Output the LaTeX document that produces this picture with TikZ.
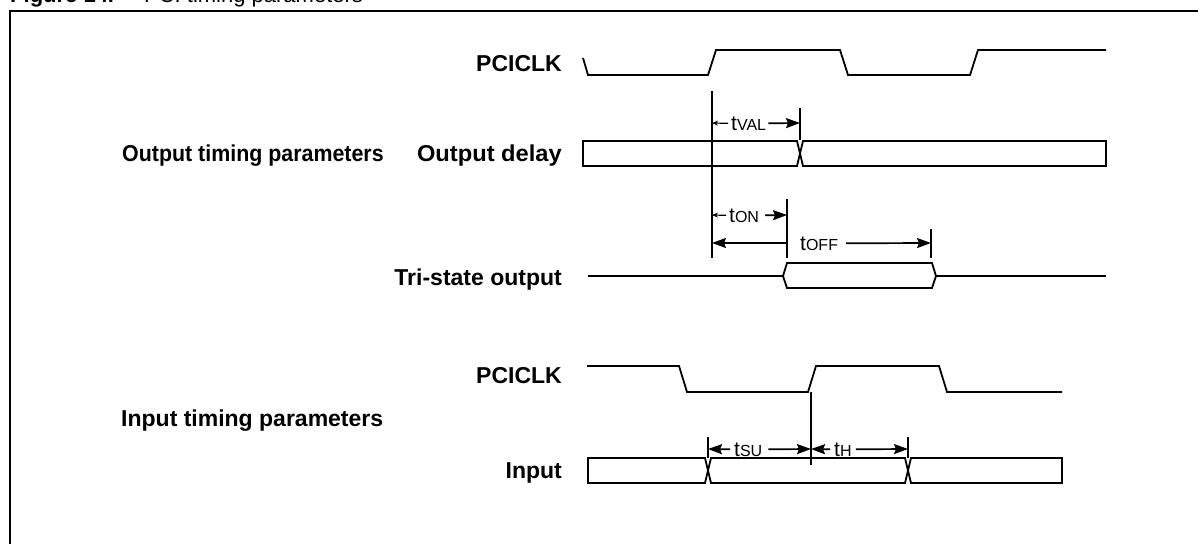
\documentclass[tikz,border=0pt]{standalone}
\usepackage{fontspec}
\setmainfont{Liberation Sans}
\usetikzlibrary{arrows.meta}

% timing parameter name: t with smaller capitals
\newcommand{\tname}[1]{t{\fontsize{16}{16}\selectfont #1}}

\begin{document}
\begin{tikzpicture}[x=1pt,y=-1pt,
  lbl/.style={font=\fontsize{23}{23}\selectfont\bfseries, inner sep=0pt},
  tlbl/.style={font=\fontsize{21}{21}\selectfont, inner sep=0pt, anchor=base west},
  sig/.style={line width=1.8pt, line join=miter},
  tick/.style={line width=1.6pt},
  dim/.style={line width=1.7pt, -{Stealth[length=14pt,width=10pt,inset=2pt]}},
  dimsmall/.style={line width=1.2pt, -{Stealth[length=6pt,width=5pt]}}]

  % Fix the size of the picture
  \useasboundingbox (0,0) rectangle (1198,543);

  % Caption and frame
  \node[anchor=base west, font=\fontsize{22}{22}\selectfont, inner sep=0pt] (cap) at (10,3)
    {\textbf{Figure 14.}\hspace{30pt}PCI timing parameters};
  \draw[line width=2.8pt] (10,560) -- (10,11) -- (1210,11);

  % Signal names
  \node[lbl, anchor=base east] (clkA) at (562,71) {PCICLK};
  \node[lbl, anchor=base east] (outdly) at (562,161) {\scalebox{1.03}[1]{Output delay}};
  \node[lbl, anchor=base west] (outpar) at (122,161) {\scalebox{0.93}[1]{Output timing parameters}};
  \node[lbl, anchor=base east] (tristate) at (562,285) {Tri-state output};
  \node[lbl, anchor=base east] (clkB) at (562,383) {PCICLK};
  \node[lbl, anchor=base west] (inpar) at (121,426) {Input timing parameters};
  \node[lbl, anchor=base east] (input) at (562,478) {Input};

  % Output section: clock
  \draw[sig] (583,58) -- (588,75) -- (708,75) -- (716,50) -- (840,50)
    -- (848,75) -- (970,75) -- (978,50) -- (1106,50);

  % Reference line at the rising edge
  \coordinate (refA) at (712,91);
  \draw[tick] (refA) -- (712,258);

  % Output delay bus
  \draw[sig] (583,141) -- (797,141) -- (803,166) -- (1106,166) -- (1106,141)
    -- (803,141) -- (797,166) -- (583,166) -- cycle;

  % tVAL
  \coordinate (valL) at (712,123);
  \coordinate (valR) at (800,123);
  \draw[tick] (800,108) -- (800,140);
  \node[tlbl] (tval) at (731,130) {\tname{VAL}};
  \draw[dimsmall] (tval.west) ++(-3,0) -- (valL);
  \draw[dim] (tval.east) ++(2,0) -- (valR);

  % tON and tOFF
  \coordinate (onL) at (712,215);
  \coordinate (onR) at (787,215);
  \coordinate (offL) at (712,243);
  \coordinate (offM) at (787,243);
  \coordinate (offR) at (931,243);
  \draw[tick] (787,199) -- (787,258);
  \draw[tick] (931,229) -- (931,258);
  \node[tlbl] (ton) at (729,222) {\tname{ON}};
  \node[tlbl] (toff) at (800,250) {\tname{OFF}};
  \draw[dimsmall] (ton.west) ++(-3,0) -- (onL);
  \draw[dim] (ton.east) ++(6,0) -- (onR);
  \draw[dim] (offM) -- (offL);
  \draw[dim] (toff.east) ++(8,0) -- (offR);

  % Tri-state output
  \draw[sig] (588,276) -- (783,276);
  \draw[sig] (787,263) -- (932,263) -- (936,276) -- (932,288) -- (787,288)
    -- (783,276) -- cycle;
  \draw[sig] (936,276) -- (1106,276);

  % Input section: clock
  \draw[sig] (587,366) -- (679,366) -- (687,392) -- (808,392) -- (816,366)
    -- (939,366) -- (947,392) -- (1062,392);

  % Reference line at the rising edge
  \coordinate (refB) at (811,392);
  \draw[tick] (refB) -- (811,465);

  % tSU and tH
  \coordinate (suL) at (708,449);
  \coordinate (hR) at (908,449);
  \coordinate (mid) at (811,449);
  \draw[tick] (708,437) -- (708,458);
  \draw[tick] (908,437) -- (908,458);
  \node[tlbl] (tsu) at (734,456) {\tname{SU}};
  \node[tlbl] (th) at (834,456) {\tname{H}};
  \draw[dim] (tsu.west) ++(-4,0) -- (suL);
  \draw[dim] (tsu.east) ++(6,0) -- (mid);
  \draw[dim] (th.west) ++(-4,0) -- (mid);
  \draw[dim] (th.east) ++(4,0) -- (hR);

  % Input bus
  \draw[sig] (588,458) -- (705,458) -- (711,483) -- (905,483) -- (911,458)
    -- (1062,458) -- (1062,483) -- (911,483) -- (905,458) -- (711,458)
    -- (705,483) -- (588,483) -- cycle;

\end{tikzpicture}
\end{document}
